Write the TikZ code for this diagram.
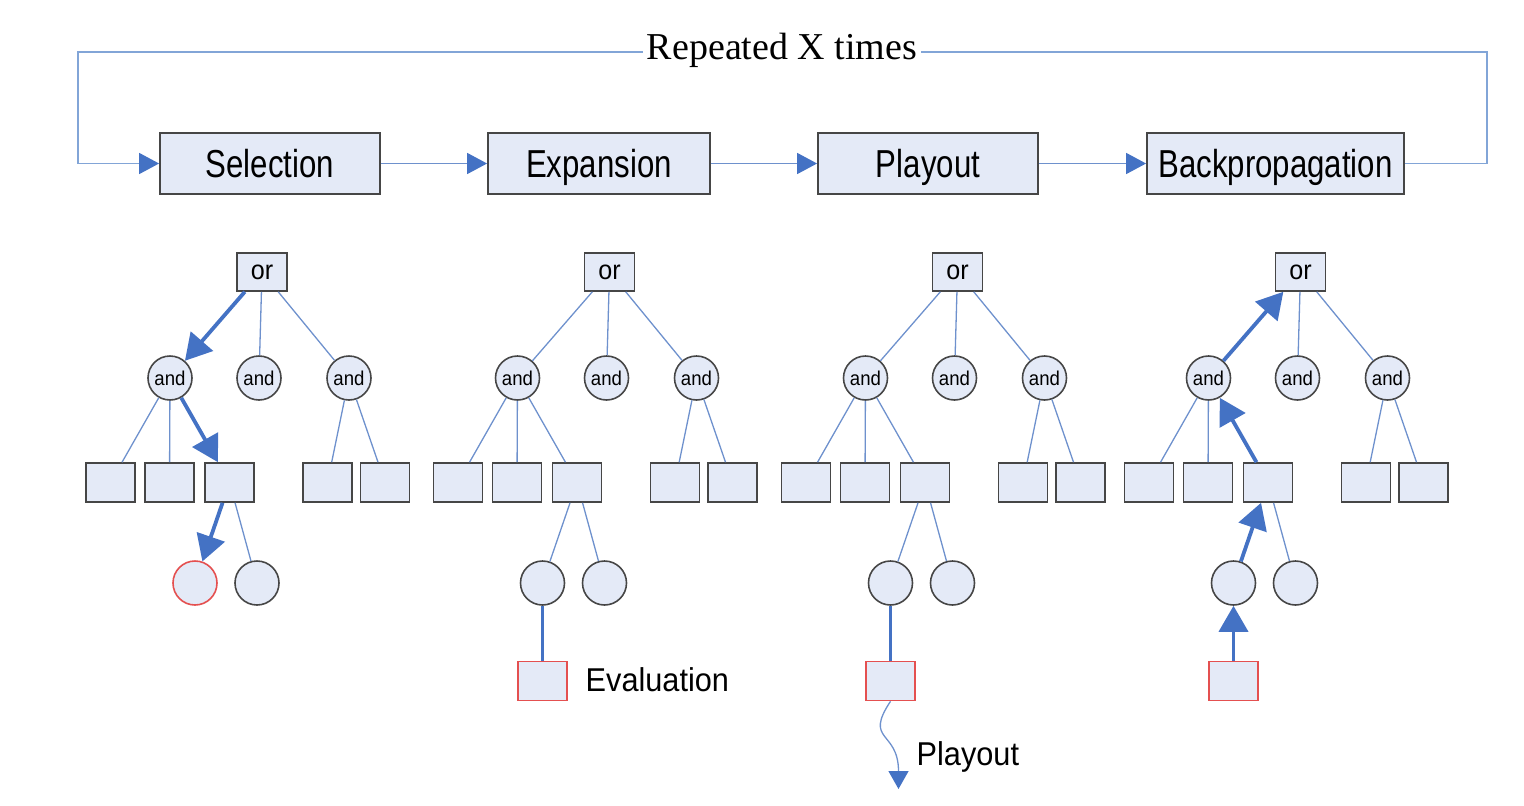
\documentclass[tikz,border=0pt]{standalone}
\usepackage{fontspec}
\setmainfont{Liberation Serif}
\newfontfamily\hdr[FakeStretch=0.8]{Liberation Sans}
\newfontfamily\lbl[FakeStretch=0.93]{Liberation Sans}
\usetikzlibrary{arrows.meta}
\definecolor{boxfill}{RGB}{228,234,247}
\definecolor{bordercol}{RGB}{70,70,70}
\definecolor{linecol}{RGB}{110,145,205}
\definecolor{loopcol}{RGB}{130,165,215}
\definecolor{arrowcol}{RGB}{68,114,196}
\definecolor{redcol}{RGB}{228,80,80}
\tikzset{
  hdrbox/.style={draw=bordercol, line width=1.8pt, fill=boxfill, minimum height=61pt, inner sep=0pt, text height=31pt, text depth=4pt, font=\hdr\fontsize{39}{40}\selectfont},
  orbox/.style={draw=bordercol, line width=1.6pt, fill=boxfill, minimum width=50pt, minimum height=38pt, inner sep=0pt, font=\lbl\fontsize{27}{27}\selectfont},
  andnode/.style={circle, draw=bordercol, line width=1.6pt, fill=boxfill, minimum size=44pt, inner sep=0pt, font=\lbl\fontsize{20}{20}\selectfont},
  leaf/.style={draw=bordercol, line width=1.6pt, fill=boxfill, minimum width=49pt, minimum height=39pt, inner sep=0pt},
  leafc/.style={circle, draw=bordercol, line width=1.6pt, fill=boxfill, minimum size=44pt, inner sep=0pt},
  redb/.style={draw=redcol},
  thin/.style={draw=linecol, line width=1.3pt},
  thick/.style={draw=arrowcol, line width=3.8pt},
  thickarr/.style={thick, -{Triangle[length=26pt,width=29pt]}},
  flow/.style={draw=linecol, line width=1.5pt, -{Triangle[length=20pt,width=21pt,color=arrowcol]}},
  loopline/.style={draw=loopcol, line width=1.5pt},
  lbltext/.style={font=\lbl\fontsize{33}{34}\selectfont, inner sep=0pt, anchor=west}
}
\newcommand{\treenodes}{%
  \node[orbox] (or) at (262,272) {or};
  \node[andnode] (a1) at (170,378) {and};
  \node[andnode] (a2) at (259,378) {and};
  \node[andnode] (a3) at (349,378) {and};
  \node[leaf] (s1) at (110.5,482.5) {};
  \node[leaf] (s2) at (169.5,482.5) {};
  \node[leaf] (s3) at (229.5,482.5) {};
  \node[leaf] (s4) at (327.5,482.5) {};
  \node[leaf] (s5) at (385,482.5) {};
}
\begin{document}
\begin{tikzpicture}[x=1pt,y=-1pt]
\useasboundingbox (0,0) rectangle (1524,806);
% header boxes
\node[hdrbox, minimum width=220pt] (sel) at (270,163.5) {Selection};
\node[hdrbox, minimum width=222pt] (exp) at (599,163.5) {Expansion};
\node[hdrbox, minimum width=220pt] (ply) at (928,163.5) {Playout};
\node[hdrbox, minimum width=257pt] (bp) at (1275.5,163.5) {Backpropagation};
\draw[flow] (sel) -- (exp);
\draw[flow] (exp) -- (ply);
\draw[flow] (ply) -- (bp);
\coordinate (lr) at (1487,163.5);
\coordinate (ur) at (1487,52);
\coordinate (ul) at (78,52);
\coordinate (ll) at (78,163.5);
\draw[loopline] (bp.east) -- (lr) -- (ur) -- (ul) -- (ll);
\draw[flow, draw=loopcol] (ll) -- (sel.west);
\node[fill=white, inner sep=4pt, font=\fontsize{38}{38}\selectfont] (rep) at (782,50) {Repeated X times};

% Tree 1: selection
\begin{scope}[name prefix=t1-]
  \treenodes
  \node[leafc, redb] (c1) at (195,583) {};
  \node[leafc] (c2) at (257,583) {};
  \draw[thickarr] (or) -- (a1);
  \draw[thin] (or) -- (a2);
  \draw[thin] (or) -- (a3);
  \draw[thin] (a1) -- (s1);
  \draw[thin] (a1) -- (s2);
  \draw[thickarr] (a1) -- (s3);
  \draw[thin] (a3) -- (s4);
  \draw[thin] (a3) -- (s5);
  \draw[thickarr] (s3) -- (c1);
  \draw[thin] (s3) -- (c2);
\end{scope}

% Tree 2: expansion
\begin{scope}[xshift=347.5pt, name prefix=t2-]
  \treenodes
  \node[leafc] (c1) at (195,583) {};
  \node[leafc] (c2) at (257,583) {};
  \node[leaf, redb] (r) at (195,681) {};
  \draw[thin] (or) -- (a1);
  \draw[thin] (or) -- (a2);
  \draw[thin] (or) -- (a3);
  \draw[thin] (a1) -- (s1);
  \draw[thin] (a1) -- (s2);
  \draw[thin] (a1) -- (s3);
  \draw[thin] (a3) -- (s4);
  \draw[thin] (a3) -- (s5);
  \draw[thin] (s3) -- (c1);
  \draw[thin] (s3) -- (c2);
  \draw[thick, line width=2.8pt] (c1) -- (r);
  \node[lbltext] (ev) at (238,680) {Evaluation};
\end{scope}

% Tree 3: playout
\begin{scope}[xshift=695.5pt, name prefix=t3-]
  \treenodes
  \node[leafc] (c1) at (195,583) {};
  \node[leafc] (c2) at (257,583) {};
  \node[leaf, redb] (r) at (195,681) {};
  \draw[thin] (or) -- (a1);
  \draw[thin] (or) -- (a2);
  \draw[thin] (or) -- (a3);
  \draw[thin] (a1) -- (s1);
  \draw[thin] (a1) -- (s2);
  \draw[thin] (a1) -- (s3);
  \draw[thin] (a3) -- (s4);
  \draw[thin] (a3) -- (s5);
  \draw[thin] (s3) -- (c1);
  \draw[thin] (s3) -- (c2);
  \draw[thick, line width=2.8pt] (c1) -- (r);
  \coordinate (pend) at (203,789);
  \draw[thin, -{Triangle[length=18pt,width=20pt,color=arrowcol]}] (r.south) .. controls (168,742) and (203,730) .. (pend);
  \node[lbltext] (pl) at (221,757) {Playout};
\end{scope}

% Tree 4: backpropagation
\begin{scope}[xshift=1038.5pt, name prefix=t4-]
  \treenodes
  \node[leafc] (c1) at (195,583) {};
  \node[leafc] (c2) at (257,583) {};
  \node[leaf, redb] (r) at (195,681) {};
  \draw[thickarr] (a1) -- (or);
  \draw[thin] (or) -- (a2);
  \draw[thin] (or) -- (a3);
  \draw[thin] (a1) -- (s1);
  \draw[thin] (a1) -- (s2);
  \draw[thickarr] (s3) -- (a1);
  \draw[thin] (a3) -- (s4);
  \draw[thin] (a3) -- (s5);
  \draw[thickarr] (c1) -- (s3);
  \draw[thin] (s3) -- (c2);
  \draw[thickarr] (r) -- (c1);
\end{scope}
\end{tikzpicture}
\end{document}
